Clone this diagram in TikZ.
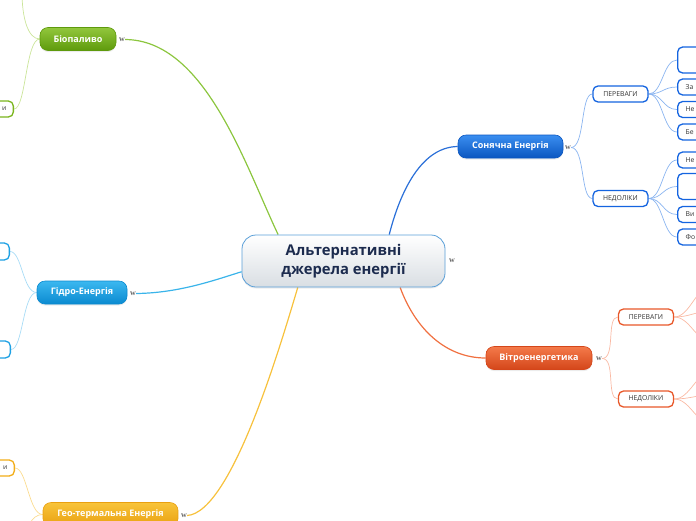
\documentclass[tikz,border=0pt]{standalone}
\usepackage{fontspec}
\setmainfont{Open Sans}
\newfontfamily\wfont{Liberation Serif}
\usetikzlibrary{shadows}
\pgfdeclarelayer{bg}
\pgfsetlayers{bg,main}
\definecolor{cBorder}{HTML}{5A9FD8}
\definecolor{cBot}{HTML}{D9DEE3}
\definecolor{cText}{HTML}{1C2B4E}
\definecolor{solarTop}{HTML}{3A8EF0}
\definecolor{solarBot}{HTML}{0B56C0}
\definecolor{solarLine}{HTML}{2A6FD8}
\definecolor{solarSub}{HTML}{8AB4F0}
\definecolor{solarBox}{HTML}{1464E0}
\definecolor{windTop}{HTML}{F47A4A}
\definecolor{windBot}{HTML}{D4461A}
\definecolor{windLine}{HTML}{F07040}
\definecolor{windSub}{HTML}{F9B9A3}
\definecolor{windBox}{HTML}{E8582A}
\definecolor{bioTop}{HTML}{92C73C}
\definecolor{bioBot}{HTML}{5E9A0C}
\definecolor{bioLine}{HTML}{8CC63F}
\definecolor{bioSub}{HTML}{CBE59A}
\definecolor{bioBox}{HTML}{7AB51D}
\definecolor{hydroTop}{HTML}{3BB8F0}
\definecolor{hydroBot}{HTML}{0B8AD0}
\definecolor{hydroLine}{HTML}{3AB4EA}
\definecolor{hydroSub}{HTML}{A8DCF6}
\definecolor{hydroBox}{HTML}{1EA1E4}
\definecolor{geoTop}{HTML}{F8C43A}
\definecolor{geoBot}{HTML}{E9A010}
\definecolor{geoLine}{HTML}{F7C13C}
\definecolor{geoSub}{HTML}{FBDC90}
\definecolor{geoBox}{HTML}{F2AD18}
\begin{document}
\begin{tikzpicture}[x=1pt,y=-1pt,
  central/.style={rounded corners=14pt, minimum width=203pt, minimum height=52pt,
    draw=cBorder, line width=0.8pt, top color=white, bottom color=cBot,
    align=center, font=\bfseries\fontsize{14.8}{19}\selectfont, text=cText, inner sep=0pt,
    drop shadow={opacity=0.15, shadow xshift=0pt, shadow yshift=-1.5pt}},
  pill/.style={rounded corners=8pt, minimum height=23pt, inner sep=0pt, text=white,
    line width=0.6pt, font=\bfseries\fontsize{9}{10}\selectfont,
    drop shadow={opacity=0.15, shadow xshift=0pt, shadow yshift=-1.5pt}},
  sub/.style={rounded corners=5pt, line width=1.3pt, fill=white, minimum width=55pt,
    minimum height=16pt, inner sep=0pt, text=black!80, font=\fontsize{6.8}{8}\selectfont},
  leafr/.style={rounded corners=5pt, line width=1.3pt, fill=white, anchor=west,
    minimum width=70pt, text width=54pt, align=left, inner xsep=8pt, inner ysep=0pt,
    text=black!80, font=\fontsize{6.8}{8}\selectfont},
  leafl/.style={rounded corners=5pt, line width=1.3pt, fill=white, anchor=east,
    minimum width=70pt, text width=56pt, align=right, inner xsep=6pt, inner ysep=0pt,
    text=black!80, font=\fontsize{6.8}{8}\selectfont},
  wicon/.style={inner sep=0pt, text=black!60, font=\wfont\bfseries\fontsize{8}{8}\selectfont},
  mainline/.style={line width=1.2pt},
  subline/.style={line width=0.7pt}]
\useasboundingbox (0,0) rectangle (696,520);
\clip (0,0) rectangle (696,520);

% central node
\node[central] (c) at (343.5,261) {Альтернативні\\джерела енергії};
\node[wicon] (cw) at (452,261) {w};

% ---------- Solar ----------
\node[pill, top color=solarTop, bottom color=solarBot, draw=solarBot, minimum width=105pt] (s) at (510.5,146.5) {Сонячна Енергія};
\node[wicon] (sw) at (568,147.5) {w};
\node[sub, draw=solarBox] (sp) at (620.5,94) {ПЕРЕВАГИ};
\node[sub, draw=solarBox] (sn) at (620.5,198.5) {НЕДОЛІКИ};
\node[leafr, draw=solarBox, minimum height=26pt] (sp1) at (677,60) {};
\node[leafr, draw=solarBox, minimum height=16pt] (sp2) at (677,87) {За};
\node[leafr, draw=solarBox, minimum height=16pt] (sp3) at (677,109.5) {Не};
\node[leafr, draw=solarBox, minimum height=16pt] (sp4) at (677,132) {Бе};
\node[leafr, draw=solarBox, minimum height=16pt] (sn1) at (677,160) {Не};
\node[leafr, draw=solarBox, minimum height=26pt] (sn2) at (677,186.5) {};
\node[leafr, draw=solarBox, minimum height=16pt] (sn3) at (677,214.5) {Ви};
\node[leafr, draw=solarBox, minimum height=16pt] (sn4) at (677,237) {Фо};

% ---------- Wind ----------
\node[pill, top color=windTop, bottom color=windBot, draw=windBot, minimum width=106pt] (wi) at (539,358) {Вітроенергетика};
\node[wicon] (ww) at (599,358.5) {w};
\node[sub, draw=windBox] (wp) at (646,317) {ПЕРЕВАГИ};
\node[sub, draw=windBox] (wn) at (646,399) {НЕДОЛІКИ};
\coordinate (wp1) at (712,286);
\coordinate (wp2) at (712,311);
\coordinate (wp3) at (712,342);
\coordinate (wn1) at (712,372);
\coordinate (wn2) at (712,395);
\coordinate (wn3) at (712,424);

% ---------- Bio ----------
\node[pill, top color=bioTop, bottom color=bioBot, draw=bioBot, minimum width=76pt] (b) at (78,39) {Біопаливо};
\node[wicon] (bw) at (122,39.5) {w};
\node[leafl, draw=bioBox, minimum height=16pt] (b2) at (14,109) {и};
\coordinate (b1) at (22,-8);

% ---------- Hydro ----------
\node[pill, top color=hydroTop, bottom color=hydroBot, draw=hydroBot, minimum width=90pt] (h) at (82,292.5) {Гідро-Енергія};
\node[wicon] (hw) at (133,293.5) {w};
\node[leafl, draw=hydroBox, minimum height=17pt] (h1) at (10,251.5) {};
\node[leafl, draw=hydroBox, minimum height=17pt] (h2) at (11,349.5) {};

% ---------- Geo ----------
\node[pill, top color=geoTop, bottom color=geoBot, draw=geoBot, minimum width=135pt, minimum height=24pt] (g) at (110.5,514.5) {Гео-термальна Енергія};
\node[wicon] (gw) at (184,515.5) {w};
\node[leafl, draw=geoBox, minimum height=16pt] (g1) at (15,468) {и};
\coordinate (g2) at (26,540);

% ---------- connector paths ----------
\begin{pgfonlayer}{bg}
% main branches
\draw[mainline, solarLine] (c.30) .. controls (398,200) and (418,147) .. (s.west);
\draw[mainline, windLine] (c.335) .. controls (415,328) and (445,358) .. (wi.west);
\draw[mainline, bioLine] (bw.east) .. controls (205,40) and (245,165) .. (c.158);
\draw[mainline, hydroLine] (hw.east) .. controls (178,293) and (212,281) .. (c.186);
\draw[mainline, geoLine] (gw.east) .. controls (232,513) and (282,340) .. (c.210);
% solar
\draw[subline, solarSub] (sw.east) .. controls +(14,0) and +(-12,0) .. (sp.west);
\draw[subline, solarSub] (sw.east) .. controls +(14,0) and +(-12,0) .. (sn.west);
\foreach \n in {sp1,sp2,sp3,sp4}
  \draw[subline, solarSub] (sp.east) .. controls +(14,0) and +(-14,0) .. (\n.west);
\foreach \n in {sn1,sn2,sn3,sn4}
  \draw[subline, solarSub] (sn.east) .. controls +(14,0) and +(-14,0) .. (\n.west);
% wind
\draw[subline, windSub] (ww.east) .. controls +(14,0) and +(-12,0) .. (wp.west);
\draw[subline, windSub] (ww.east) .. controls +(14,0) and +(-12,0) .. (wn.west);
\foreach \n in {wp1,wp2,wp3}
  \draw[subline, windSub] (wp.east) .. controls +(16,0) and +(-16,0) .. (\n);
\foreach \n in {wn1,wn2,wn3}
  \draw[subline, windSub] (wn.east) .. controls +(16,0) and +(-16,0) .. (\n);
% bio
\draw[subline, bioSub] (b.west) .. controls +(-12,0) and +(0,25) .. (b1);
\draw[subline, bioSub] (b.west) .. controls +(-14,0) and +(12,0) .. (b2.east);
% hydro
\draw[subline, hydroSub] (h.west) .. controls +(-14,0) and +(12,0) .. (h1.east);
\draw[subline, hydroSub] (h.west) .. controls +(-14,0) and +(12,0) .. (h2.east);
% geo
\draw[subline, geoSub] (g.west) .. controls +(-14,0) and +(12,0) .. (g1.east);
\draw[subline, geoSub] (g.west) .. controls +(-12,0) and +(0,-10) .. (g2);
\end{pgfonlayer}
\end{tikzpicture}
\end{document}
